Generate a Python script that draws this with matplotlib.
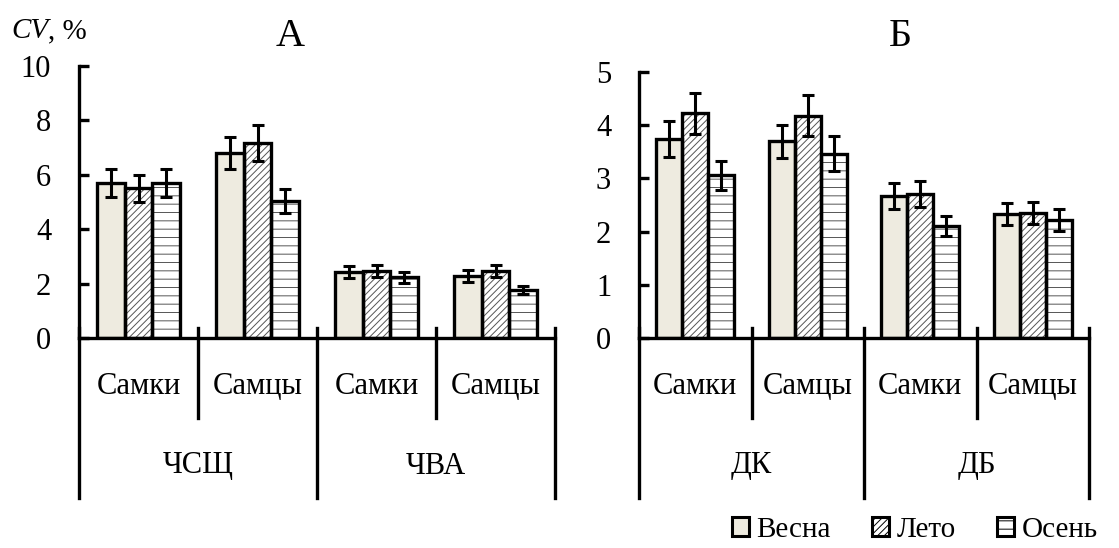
import numpy as np
import matplotlib.pyplot as plt
from matplotlib.patches import Rectangle
from matplotlib.transforms import blended_transform_factory

plt.rcParams['font.family'] = ['Liberation Serif', 'DejaVu Serif']
plt.rcParams['hatch.linewidth'] = 0.7

seasons = ['Весна', 'Лето', 'Осень']
sexes = ['Самки', 'Самцы', 'Самки', 'Самцы']

# panel A
groups_a = ['ЧСЩ', 'ЧВА']
vals_a = {'Весна': [5.7, 6.8, 2.43, 2.28],
          'Лето':  [5.5, 7.17, 2.46, 2.47],
          'Осень': [5.7, 5.03, 2.24, 1.76]}
err_a = {'Весна': [0.5, 0.6, 0.23, 0.22],
         'Лето':  [0.5, 0.65, 0.23, 0.22],
         'Осень': [0.5, 0.45, 0.2, 0.15]}

# panel Б
groups_b = ['ДК', 'ДБ']
vals_b = {'Весна': [3.74, 3.70, 2.67, 2.33],
          'Лето':  [4.22, 4.18, 2.71, 2.35],
          'Осень': [3.06, 3.46, 2.10, 2.22]}
err_b = {'Весна': [0.33, 0.31, 0.24, 0.21],
         'Лето':  [0.39, 0.38, 0.24, 0.21],
         'Осень': [0.27, 0.33, 0.19, 0.21]}

fills = {'Весна': '#eeebe0', 'Лето': 'white', 'Осень': 'white'}
hatches = {'Весна': None, 'Лето': '/////', 'Осень': '--'}

W, H = 1119, 548
fig = plt.figure(figsize=(W / 100, H / 100), dpi=100)


def fy(py):
    return 1 - py / H


def panel(rect, vals, errs, groups, ymax, yticks, title, title_x):
    ax = fig.add_axes(rect)
    x = np.arange(4) + 0.5
    bw = 0.23
    for k, s in enumerate(seasons):
        xs = x + (k - 1) * bw
        ax.bar(xs, vals[s], bw, color=fills[s], hatch=hatches[s],
               edgecolor='#555555', linewidth=0, zorder=2)
        ax.bar(xs, vals[s], bw, fill=False, edgecolor='black',
               linewidth=2.4, zorder=3)
        ax.errorbar(xs, vals[s], yerr=errs[s], fmt='none', ecolor='black',
                    elinewidth=2.2, capsize=4, capthick=2.2, zorder=4)
    ax.set_xlim(0, 4)
    ax.set_ylim(0, ymax)
    ax.set_yticks(yticks)
    ax.set_xticks([])
    for sp in ['top', 'right']:
        ax.spines[sp].set_visible(False)
    ax.spines['left'].set_linewidth(2.4)
    ax.spines['bottom'].set_linewidth(2.4)
    ax.tick_params(axis='y', direction='in', length=7, width=2.4,
                   labelsize=22, pad=20)

    tr = blended_transform_factory(ax.transData, fig.transFigure)
    for b in range(5):
        bottom = fy(498) if b % 2 == 0 else fy(418)
        ax.plot([b, b], [fy(328), bottom], color='black', lw=2.4,
                transform=tr, clip_on=False, zorder=5)
    for i, lab in enumerate(sexes):
        ax.text(i + 0.5, fy(386), lab, transform=tr, ha='center',
                va='center', fontsize=22)
    for g, lab in enumerate(groups):
        ax.text(2 * g + 1, fy(466), lab, transform=tr, ha='center',
                va='center', fontsize=22)
    fig.text(title_x / W, fy(37), title, ha='center', va='center',
             fontsize=29)
    return ax


axA = panel([79 / W, fy(338), 476 / W, (338 - 66) / H], vals_a, err_a,
            groups_a, 10, [0, 2, 4, 6, 8, 10], 'А', 290)
axB = panel([639 / W, fy(338), 450 / W, (338 - 72) / H], vals_b, err_b,
            groups_b, 5, [0, 1, 2, 3, 4, 5], 'Б', 900)

t = fig.text(11 / W, fy(31), 'CV', style='italic', fontsize=21,
             ha='left', va='center')
axA.annotate(', %', xy=(1, 0.5), xycoords=t, va='center', ha='left',
             fontsize=21, annotation_clip=False)

handles = [Rectangle((0, 0), 1, 1, facecolor=fills[s], hatch=hatches[s],
                     edgecolor='black', linewidth=2.2) for s in seasons]
fig.legend(handles, seasons, loc='center right',
           bbox_to_anchor=(1112 / W, fy(530)), ncol=3, frameon=False,
           fontsize=21, handlelength=0.6, handleheight=0.6,
           handletextpad=0.25, columnspacing=1.4, borderpad=0)

fig.savefig('out.png', dpi=100)
